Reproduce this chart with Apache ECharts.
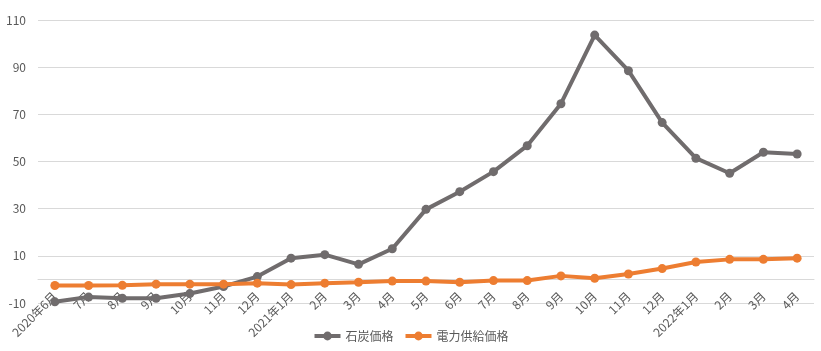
<!DOCTYPE html>
<html>
<head>
<meta charset="utf-8">
<script src="https://cdn.jsdelivr.net/npm/echarts@6/dist/echarts.min.js"></script>
<style>
  html, body { margin: 0; padding: 0; background: #fff; }
  #chart { width: 821px; height: 351px; }
</style>
</head>
<body>
<div id="chart"></div>
<script type="text/javascript">
	var months = ['2020年6月', '7月', '8月', '9月', '10月', '11月', '12月',
		'2021年1月', '2月', '3月', '4月', '5月', '6月', '7月', '8月', '9月', '10月', '11月', '12月',
		'2022年1月', '2月', '3月', '4月'];
	var coalPrice = [-9.5, -7.5, -8, -8, -6, -3, 1.2, 9, 10.5, 6.4, 13, 29.7, 37.2, 45.7, 56.7, 74.5,
		103.6, 88.5, 66.5, 51.4, 45, 53.9, 53.2];
	var powerPrice = [-2.6, -2.6, -2.5, -2, -2, -2, -1.6, -2.2, -1.6, -1.2, -0.7, -0.7, -1.2, -0.5, -0.5,
		1.5, 0.5, 2.3, 4.6, 7.4, 8.5, 8.5, 9];
	var seriesNames = ['石炭価格', '電力供給価格'];

	var font = '"Noto Sans CJK JP", "Noto Sans", sans-serif';
	var myChart = echarts.init(document.getElementById('chart'));
	var option = {
		animation: false,
		color: ['#706c6d', '#ed7d31'],
		textStyle: { fontFamily: font },
		grid: { left: 38, right: 7, top: 20, bottom: 48, containLabel: false, outerBoundsMode: 'none' },
		legend: {
			bottom: 4,
			left: 'center',
			itemWidth: 26,
			itemHeight: 11,
			itemGap: 10,
			lineStyle: { width: 4 },
			textStyle: { color: '#595959', fontSize: 12, fontFamily: font },
			data: seriesNames
		},
		xAxis: {
			type: 'category',
			data: months,
			boundaryGap: true,
			// Excel-style: axis crosses at 0, labels sit just under it (inside the plot)
			axisLine: { show: true, onZero: true, lineStyle: { color: '#d9d9d9', width: 1 } },
			axisTick: { show: false },
			axisLabel: { rotate: 45, color: '#595959', fontSize: 12, margin: -9, interval: 0, fontFamily: font }
		},
		yAxis: {
			type: 'value',
			min: -10,
			max: 110,
			interval: 20,
			axisLine: { show: false },
			axisTick: { show: false },
			axisLabel: { color: '#595959', fontSize: 12, margin: 12, fontFamily: font },
			splitLine: { lineStyle: { color: '#d9d9d9', width: 1 } }
		},
		series: [
			{
				name: seriesNames[0],
				type: 'line',
				data: coalPrice,
				symbol: 'circle',
				symbolSize: 9,
				lineStyle: { width: 4 },
				z: 3
			},
			{
				name: seriesNames[1],
				type: 'line',
				data: powerPrice,
				symbol: 'circle',
				symbolSize: 9,
				lineStyle: { width: 4 },
				z: 4
			}
		]
	};
	myChart.setOption(option);
</script>
</body>
</html>
